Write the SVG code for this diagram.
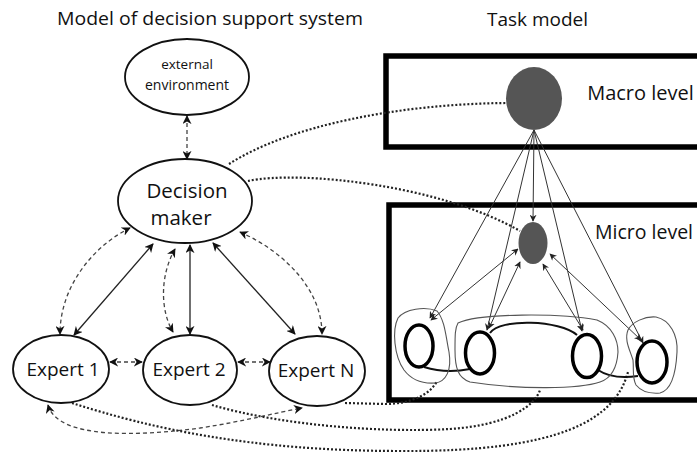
<svg xmlns="http://www.w3.org/2000/svg" width="697" height="454" viewBox="0 0 697 454">
<style>
text{font-family:"Open Sans","Liberation Sans",sans-serif;fill:#111;text-anchor:middle}
.node{fill:#fff;stroke:#111;stroke-width:1.8}
.solid{fill:none;stroke:#222;stroke-width:1.3}
.thin{fill:none;stroke:#333;stroke-width:1}
.dash{fill:none;stroke:#444;stroke-width:1.3;stroke-dasharray:4 3}
.dot{fill:none;stroke:#222;stroke-width:2.2;stroke-dasharray:2 2}
.frame{fill:none;stroke:#000;stroke-width:5.5}
.blob{fill:none;stroke:#555;stroke-width:1.1}
.circ{fill:#fff;stroke:#000;stroke-width:3.5}
.link{fill:none;stroke:#111;stroke-width:2}
</style>
<defs>
<marker id="ah" viewBox="0 0 10 10" refX="9" refY="5" markerWidth="9" markerHeight="9" orient="auto-start-reverse" markerUnits="userSpaceOnUse"><path d="M0,0 L10,5 L0,10 L3,5 z" fill="#111"/></marker>
<marker id="as" viewBox="0 0 10 10" refX="9" refY="5" markerWidth="7" markerHeight="7" orient="auto-start-reverse" markerUnits="userSpaceOnUse"><path d="M0,0 L10,5 L0,10 L3,5 z" fill="#222"/></marker>
</defs>

<text x="210" y="25" font-size="19" textLength="306" lengthAdjust="spacingAndGlyphs">Model of decision support system</text>
<text x="537.5" y="26" font-size="19">Task model</text>

<g id="macro-frame">
<rect class="frame" x="386" y="56" width="330" height="91"/>
<text x="640.5" y="100" font-size="20">Macro level</text>
</g>
<g id="micro-frame">
<rect class="frame" x="389" y="205" width="330" height="195"/>
<text x="644" y="239" font-size="19.5">Micro level</text>
</g>

<g id="connectors">
<path class="dash" d="M187,116 L187,159" marker-start="url(#ah)" marker-end="url(#ah)"/>
<path class="solid" d="M153,244 L74,335" marker-start="url(#ah)" marker-end="url(#ah)"/>
<path class="solid" d="M190,245 L190,334" marker-start="url(#ah)" marker-end="url(#ah)"/>
<path class="solid" d="M213,243 L295,334" marker-start="url(#ah)" marker-end="url(#ah)"/>
<path class="dash" d="M130,228 C95,245 60,285 60,334" marker-start="url(#ah)" marker-end="url(#ah)"/>
<path class="dash" d="M240,232 C285,252 322,290 322,334" marker-start="url(#ah)" marker-end="url(#ah)"/>
<path class="dash" d="M175,249 C160,275 160,310 173,332" marker-start="url(#ah)" marker-end="url(#ah)"/>
<path class="dash" d="M110,362 L142,362" marker-start="url(#ah)" marker-end="url(#ah)"/>
<path class="dash" d="M238,362 L270,362" marker-start="url(#ah)" marker-end="url(#ah)"/>
<path class="dash" d="M48,405 C58,440 140,436 200,428 C245,421 275,413 302,408" marker-start="url(#ah)" marker-end="url(#ah)"/>
<path class="dot" d="M229,164 C290,125 400,104 506,103"/>
<path class="dot" d="M248,181 C300,170 440,185 520,231"/>
<path class="dot" d="M345,403 L385,404 C410,404 430,395 437,381"/>
<path class="dot" d="M212,405 C280,425 380,433 450,429 C510,425 535,405 540,390"/>
<path class="dot" d="M72,403 C150,428 250,451 400,451 C560,452 615,420 628,372"/>
<path class="thin" d="M534,130 L533,221" marker-end="url(#as)"/>
<path class="thin" d="M534,130 L430,318" marker-end="url(#as)"/>
<path class="thin" d="M534,130 L487,330" marker-end="url(#as)"/>
<path class="thin" d="M534,130 L582,331" marker-end="url(#as)"/>
<path class="thin" d="M534,130 L643,343" marker-end="url(#as)"/>
<path class="thin" d="M518,249 L431,320" marker-start="url(#as)" marker-end="url(#as)"/>
<path class="thin" d="M520,262 L489,328" marker-start="url(#as)" marker-end="url(#as)"/>
<path class="thin" d="M543,264 L583,330" marker-start="url(#as)" marker-end="url(#as)"/>
<path class="thin" d="M550,254 L641,340" marker-start="url(#as)" marker-end="url(#as)"/>
<path class="link" d="M424,367 C440,372 455,372 470,369"/>
<path class="link" d="M490,333 C500,318 560,320 577,335"/>
<path class="link" d="M598,370 C610,378 625,378 638,376"/>
</g>

<g id="external-environment">
<ellipse class="node" cx="187" cy="77" rx="62" ry="38"/>
<text x="187" y="69" font-size="13.5">external</text>
<text x="187" y="90" font-size="14">environment</text>
</g>
<g id="decision-maker">
<ellipse class="node" cx="185" cy="201" rx="67" ry="42"/>
<text x="187" y="198" font-size="20.5">Decision</text>
<text x="181" y="225" font-size="20.5">maker</text>
</g>
<g id="expert-1">
<ellipse class="node" cx="61" cy="369" rx="48" ry="34"/>
<text x="63" y="376" font-size="19">Expert 1</text>
</g>
<g id="expert-2">
<ellipse class="node" cx="190" cy="370" rx="47" ry="35"/>
<text x="189" y="376" font-size="19">Expert 2</text>
</g>
<g id="expert-n">
<ellipse class="node" cx="317" cy="371" rx="48" ry="35"/>
<text x="316" y="377" font-size="19">Expert N</text>
</g>

<g id="macro-node"><ellipse cx="534" cy="98.5" rx="28" ry="31.5" fill="#555"/></g>
<g id="micro-node"><ellipse cx="533" cy="243" rx="14.5" ry="21" fill="#555"/></g>

<g id="group-1"><path class="blob" d="M398,318 C405,309 425,306 437,311 C445,320 446,338 449,352 C452,370 446,382 435,383 C420,384 410,378 404,370 C394,356 392,330 398,318 Z"/></g>
<g id="group-2"><path class="blob" d="M458,323 C480,313 560,313 597,320 C612,326 618,340 618,352 C617,368 612,378 600,382 C580,389 520,390 470,382 C458,378 455,368 455,350 C455,335 455,328 458,323 Z"/></g>
<g id="group-3"><path class="blob" d="M628,330 C632,322 645,316 656,317 C670,320 678,335 677,352 C676,372 672,390 660,393 C648,394 640,390 636,385 C632,378 634,370 633,360 C630,350 624,340 628,330 Z"/></g>

<g id="circle-1"><ellipse class="circ" cx="419" cy="346" rx="14" ry="21"/></g>
<g id="circle-2"><ellipse class="circ" cx="480" cy="353" rx="14.5" ry="21"/></g>
<g id="circle-3"><ellipse class="circ" cx="587" cy="356" rx="14.5" ry="21.5"/></g>
<g id="circle-4"><ellipse class="circ" cx="652" cy="362" rx="15" ry="21"/></g>
</svg>
